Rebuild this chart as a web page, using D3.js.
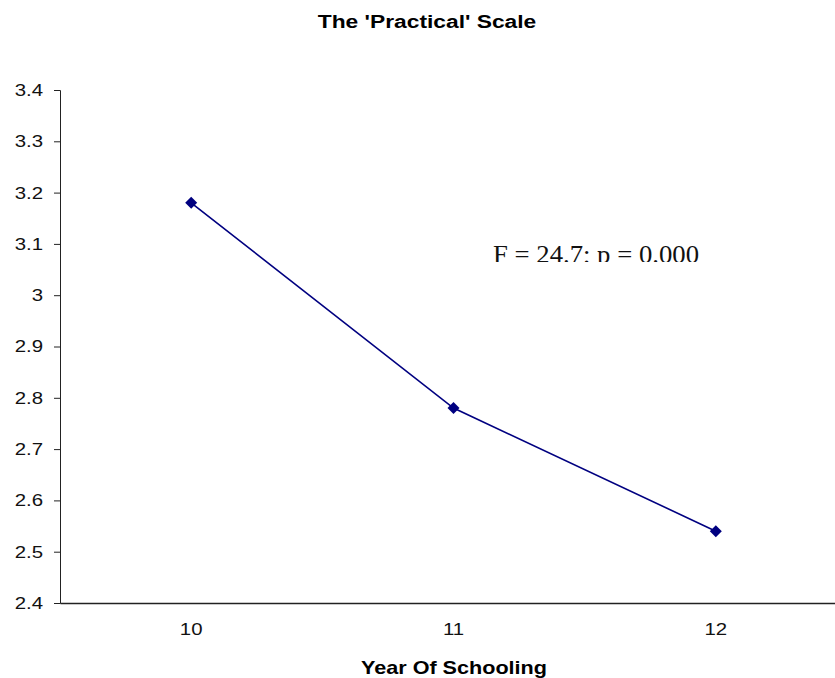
<!DOCTYPE html>
<html>
<head>
<meta charset="utf-8">
<script src="https://cdn.jsdelivr.net/npm/d3@7"></script>
<style>
  body { margin: 0; background: #fff; }
  svg { display: block; }
</style>
</head>
<body>
<svg id="chart" width="835" height="678"></svg>
<script>
// data
const years = ["10", "11", "12"];
const practicalMeans = [3.18, 2.78, 2.54];
const yTicks = [2.4, 2.5, 2.6, 2.7, 2.8, 2.9, 3.0, 3.1, 3.2, 3.3, 3.4];
const chartTitle = "The 'Practical' Scale";
const xTitle = "Year Of Schooling";
const note = "F = 24.7; p = 0.000";

const sans = "'Liberation Sans', Arial, sans-serif";
const serif = "'Liberation Serif', 'Times New Roman', serif";
const stretch = 1.2; // the source picture is a bit wide

const svg = d3.select("#chart");

const x = d3.scaleBand().domain(years).range([60, 847]);
const y = d3.scaleLinear().domain([2.4, 3.4]).range([603, 90]);

// squeeze / widen a text element around its anchor
function widen(sel, k) {
  sel.each(function () {
    const t = d3.select(this);
    const tx = +t.attr("x") || 0, ty = +t.attr("y") || 0;
    t.attr("x", 0).attr("y", 0)
      .attr("transform", `translate(${tx},${ty}) scale(${k},1)`);
  });
}

// y axis
const yAxis = svg.append("g")
  .attr("transform", "translate(60,0)")
  .call(d3.axisLeft(y).tickValues(yTicks).tickSize(6).tickPadding(11)
    .tickFormat(d => String(+d.toFixed(1))));
yAxis.selectAll("path, line").attr("stroke", "#222");
yAxis.selectAll("text")
  .attr("font-family", sans).attr("font-size", 17).attr("fill", "#111")
  .call(widen, stretch);

// x axis
const xAxis = svg.append("g")
  .attr("transform", "translate(0,603)")
  .call(d3.axisBottom(x).tickSize(0).tickSizeOuter(0).tickPadding(20));
xAxis.select(".domain").attr("stroke", "#222").attr("stroke-width", 1.3);
xAxis.selectAll("text")
  .attr("font-family", sans).attr("font-size", 17).attr("fill", "#111")
  .call(widen, stretch);

// line + markers
const pts = years.map((yr, i) => ({ year: yr, value: practicalMeans[i] }));
const cx = d => x(d.year) + x.bandwidth() / 2;

svg.append("path")
  .datum(pts)
  .attr("fill", "none")
  .attr("stroke", "#000080")
  .attr("stroke-width", 1.6)
  .attr("d", d3.line().x(cx).y(d => y(d.value)));

svg.selectAll(".marker")
  .data(pts)
  .join("path")
  .attr("class", "marker")
  .attr("fill", "#000080")
  .attr("d", d3.symbol(d3.symbolSquare, 72))
  .attr("transform", d => `translate(${cx(d)},${y(d.value)}) rotate(45)`);

// titles
svg.append("text")
  .attr("x", 427).attr("y", 28)
  .attr("text-anchor", "middle")
  .attr("font-family", sans).attr("font-weight", "bold").attr("font-size", 19)
  .text(chartTitle)
  .call(widen, stretch);

svg.append("text")
  .attr("x", 454).attr("y", 674)
  .attr("text-anchor", "middle")
  .attr("font-family", sans).attr("font-weight", "bold").attr("font-size", 18)
  .text(xTitle)
  .call(widen, stretch);

// the stats note sits in a clipped text box
svg.append("clipPath").attr("id", "noteClip")
  .append("rect").attr("x", 480).attr("y", 225).attr("width", 260).attr("height", 37);

const noteText = svg.append("text")
  .attr("clip-path", "url(#noteClip)")
  .attr("x", 493).attr("y", 263)
  .attr("font-family", serif).attr("font-size", 26).attr("fill", "#111")
  .text(note);
const nw = noteText.node().getComputedTextLength();
noteText.attr("textLength", 206).attr("lengthAdjust", "spacingAndGlyphs");
</script>
</body>
</html>
